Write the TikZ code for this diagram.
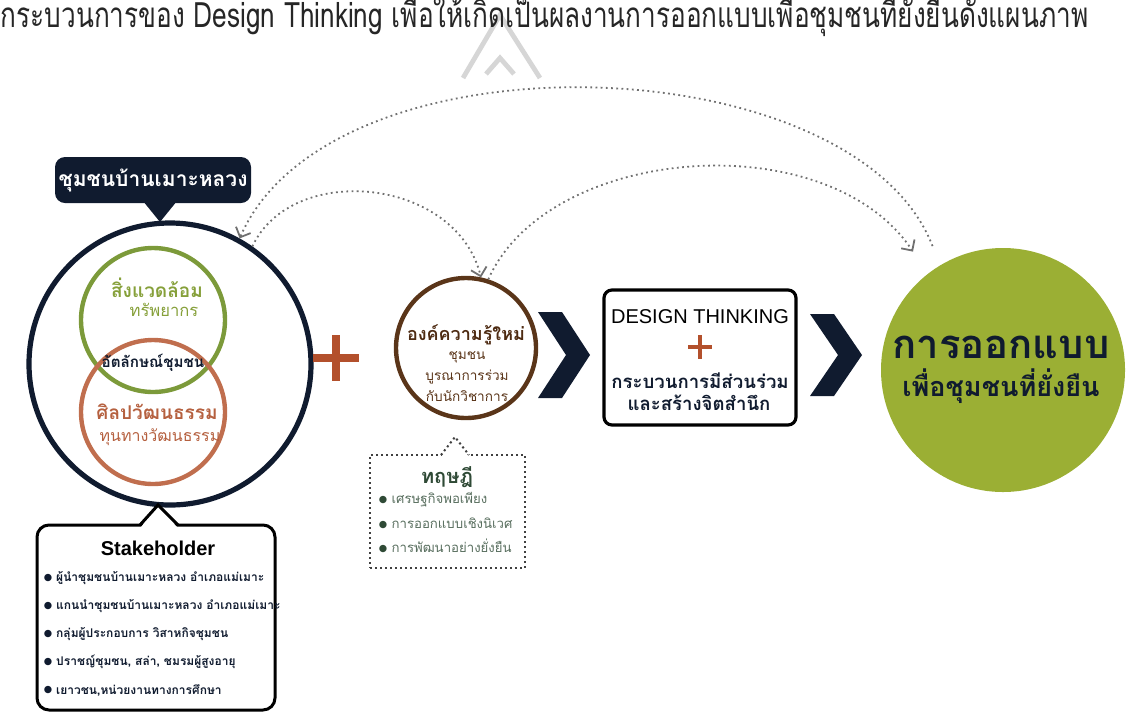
\documentclass[tikz,border=0pt]{standalone}
\usepackage{fontspec}
\setmainfont[Script=Thai]{Loma}
\newfontfamily\latinfont{Liberation Sans}
\newfontfamily\marksym{DejaVu Sans}
\usetikzlibrary{arrows.meta}
\newcommand{\tsize}[1]{\fontsize{#1}{#1}\selectfont}
\newcommand{\dotmark}{\raisebox{0.6pt}{\marksym\tsize{4.8}●}\ }
\definecolor{navy}{HTML}{101B2F}
\definecolor{envgreen}{HTML}{7C9A3A}
\definecolor{envtext}{HTML}{86A03A}
\definecolor{artorange}{HTML}{C06E4E}
\definecolor{arttext}{HTML}{B5603F}
\definecolor{brownring}{HTML}{5A3519}
\definecolor{browntext}{HTML}{4E2B12}
\definecolor{olive}{HTML}{9BAF34}
\definecolor{plusred}{HTML}{B3502C}
\definecolor{dotgray}{HTML}{707070}
\definecolor{theorygreen}{HTML}{2F4A36}
\definecolor{markgray}{HTML}{D6D6D6}

\begin{document}
\begin{tikzpicture}[x=0.5pt, y=-0.5pt, thick,
  ring node/.style={circle, draw, inner sep=0pt, line width=2.2pt},
  label box/.style={fill=navy, text=white, rounded corners=5pt, minimum width=98pt, minimum height=23pt, inner sep=0pt, font=\bfseries\tsize{10.5}},
  line node/.style={inner sep=0pt, align=center},
  item node/.style={inner sep=0pt, anchor=west, font=\bfseries\tsize{6}, text=navy},
  frame node/.style={draw=black, inner sep=0pt, line width=1.5pt},
  theory line/.style={draw=black!75, line width=1pt, dash pattern=on 1pt off 1.5pt},
  plus bar/.style={draw=plusred, line width=4pt},
  chevron/.style={fill=navy},
  dot link/.style={draw=dotgray, line width=0.9pt, dash pattern=on 0.9pt off 1.7pt, -{Straight Barb[length=4pt, width=8pt]}}]
\useasboundingbox (0,0) rectangle (1138,713);
\clip (0,0) rectangle (1138,713);
\draw[markgray, line width=2.4pt] (463,78) -- (500,15) -- (540,78);
\draw[markgray, line width=2.4pt] (486,74) -- (500,58) -- (514,74);
\node[anchor=base west, inner sep=0pt, font=\tsize{14}, text=black!85] (header) at (0,27) {\scalebox{0.935}[1.25]{กระบวนการของ Design Thinking เพื่อให้เกิดเป็นผลงานการออกแบบเพื่อชุมชนที่ยั่งยืนดังแผนภาพ}};

\node[label box] (village) at (153,180) {ชุมชนบ้านเมาะหลวง};
\fill[navy] (143,201) -- (160,222) -- (177,201) -- cycle;
\node[ring node, draw=navy, line width=2.6pt, minimum size=141pt] (community) at (170,364) {};
\node[ring node, draw=envgreen, minimum size=72pt] (env) at (153,320) {};
\node[ring node, draw=artorange, minimum size=72pt] (art) at (153,412) {};
\node[line node, font=\bfseries\tsize{9.5}, text=envtext] (envtitle) at (157,288) {สิ่งแวดล้อม};
\node[line node, font=\tsize{8.3}, text=envtext] (envsub) at (164,310) {ทรัพยากร};
\node[line node, font=\bfseries\tsize{7.6}, text=navy] (identity) at (153,363) {อัตลักษณ์ชุมชน};
\node[line node, font=\bfseries\tsize{9.5}, text=arttext] (arttitle) at (157,412) {ศิลปวัฒนธรรม};
\node[line node, font=\tsize{8}, text=arttext] (artsub) at (160,437) {ทุนทางวัฒนธรรม};

\draw[plus bar] (313,358) -- (359,358) (336,335) -- (336,381);

\node[ring node, draw=brownring, minimum size=70pt] (knowledge) at (466,348) {};
\node[line node, font=\bfseries\tsize{9}, text=browntext] (ktitle) at (466,335) {องค์ความรู้ใหม่};
\foreach \n/\y/\t in {k1/357/ชุมชน, k2/377/บูรณาการร่วม, k3/396/กับนักวิชาการ}
  \node[line node, font=\tsize{6.8}, text=brownring] (\n) at (467,\y) {\t};

\node[theory line, minimum width=77.5pt, minimum height=56.5pt, inner sep=0pt] (theory) at (447.5,511.5) {};
\fill[white] (441,457) -- (455,437) -- (469,457) -- cycle;
\draw[theory line] (441,455) -- (455,437) -- (469,455);
\node[line node, font=\bfseries\tsize{10}, text=theorygreen] (ttitle) at (447,477) {ทฤษฎี};
\foreach \n/\y/\t in {t1/500/เศรษฐกิจพอเพียง, t2/523/การออกแบบเชิงนิเวศ, t3/546/การพัฒนาอย่างยั่งยืน}
  \node[item node, font=\tsize{6.6}, text=theorygreen!80] (\n) at (378,\y) {{\color{theorygreen}\dotmark}\t};

\fill[chevron] (538,312) -- (562,312) -- (590,355) -- (562,398) -- (538,398) -- (566,355) -- cycle;
\node[frame node, line width=1.6pt, rounded corners=4pt, minimum width=96pt, minimum height=67.5pt] (dt) at (700,357.5) {};
\node[line node, font=\latinfont\tsize{10}] (dttitle) at (700,317) {DESIGN THINKING};
\draw[plus bar, line width=2.2pt] (688,347) -- (712,347) (700,335) -- (700,359);
\node[line node, font=\bfseries\tsize{9.3}, text=navy] (dt1) at (700,381) {กระบวนการมีส่วนร่วม};
\node[line node, font=\bfseries\tsize{9.3}, text=navy] (dt2) at (699,403) {และสร้างจิตสำนึก};
\fill[chevron] (810,314) -- (834,314) -- (862,355) -- (834,396) -- (810,396) -- (838,355) -- cycle;

\node[circle, fill=olive, minimum size=122pt, inner sep=0pt] (design) at (1003,370) {};
\node[line node, font=\bfseries\tsize{20}, text=navy] (dtitle) at (1001,347) {การออกแบบ};
\node[line node, font=\bfseries\tsize{13.5}, text=navy] (dsub) at (1001,386) {เพื่อชุมชนที่ยั่งยืน};

\node[frame node, rounded corners=6pt, minimum width=119pt, minimum height=92.5pt] (stake) at (156,617.5) {};
\fill[white] (141,527) -- (158,506) -- (177,527) -- cycle;
\draw[line width=1.5pt] (140,525) -- (158,505) -- (178,525);
\node[line node, font=\latinfont\bfseries\tsize{10}] (staketitle) at (158,548) {Stakeholder};
\foreach \n/\y/\t in {s1/578/ผู้นำชุมชนบ้านเมาะหลวง อำเภอแม่เมาะ, s2/606/แกนนำชุมชนบ้านเมาะหลวง อำเภอแม่เมาะ, s3/634/กลุ่มผู้ประกอบการ วิสาหกิจชุมชน, s4/662/{ปราชญ์ชุมชน, สล่า, ชมรมผู้สูงอายุ}, s5/690/{เยาวชน,หน่วยงานทางการศึกษา}}
  \node[item node] (\n) at (43,\y) {\dotmark\t};

\draw[dot link] (community.55) .. controls +(40,-85) and +(-25,-100) .. (knowledge.78);
\draw[dot link, shorten >=13pt] (knowledge.72) .. controls +(60,-135) and +(-100,-150) .. (design.128);
\draw[dot link, shorten <=10pt] (design.121) .. controls +(-85,-220) and +(92,-211) .. (community.61);
\end{tikzpicture}
\end{document}
